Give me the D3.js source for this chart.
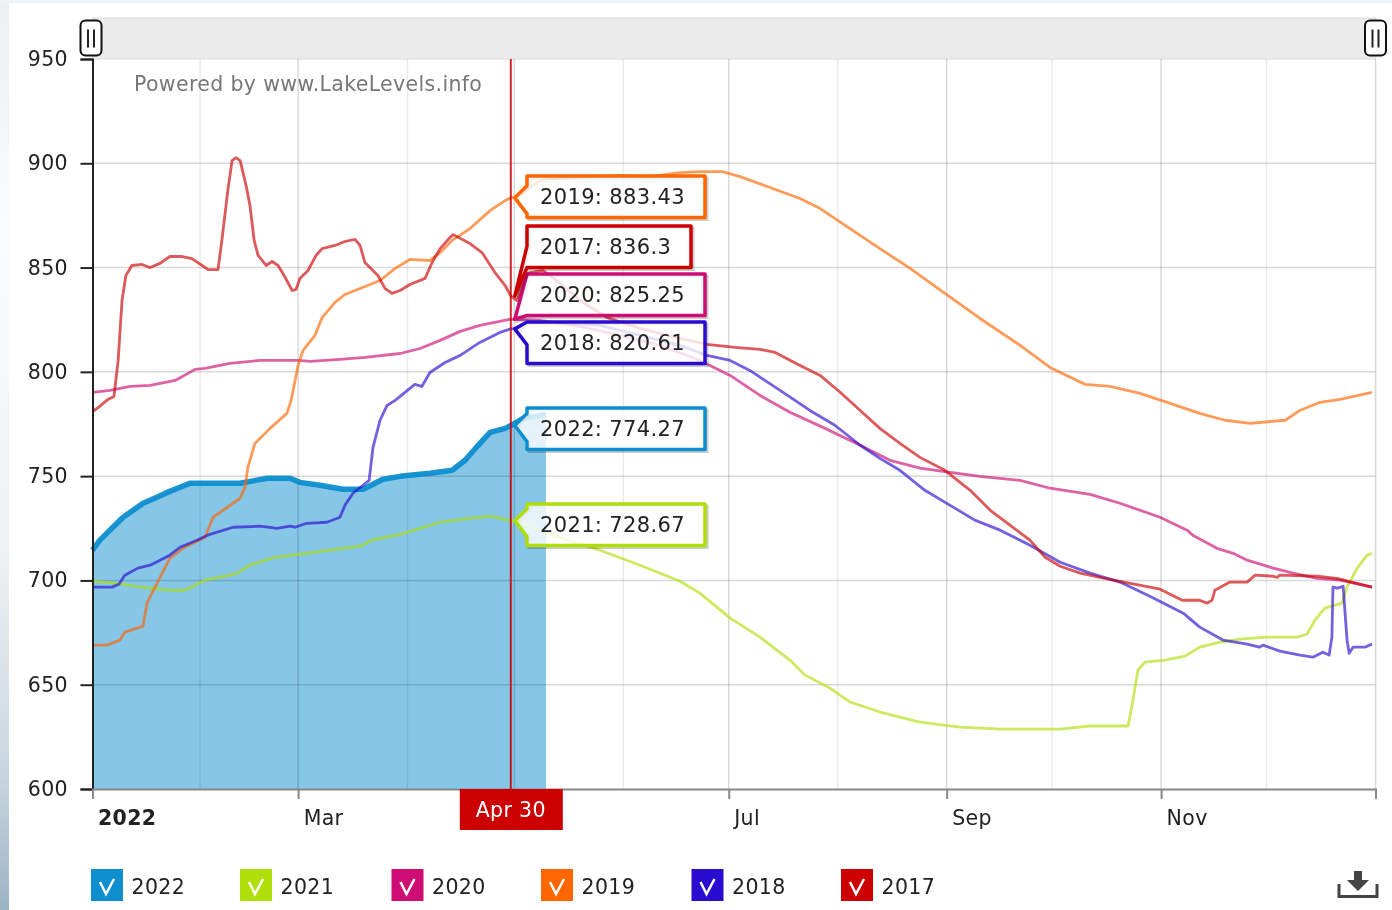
<!DOCTYPE html>
<html>
<head>
<meta charset="utf-8">
<title>Lake levels</title>
<script src="https://cdn.jsdelivr.net/npm/d3@7"></script>
<style>
  html, body { margin: 0; padding: 0; background: #fff; overflow: hidden; }
  svg { filter: blur(0.45px); }
  text { font-family: "DejaVu Sans", Verdana, sans-serif; letter-spacing: 0.35px; }
</style>
</head>
<body>
<svg id="chart" width="1392" height="910"></svg>
<script>
// Each reading is [day of the year, lake level]
const level2022 = [[0,714.5],[2.1,719.3],[5.8,725.5],[8.7,730.3],[14.4,737],[18.3,739.9],[22,742.7],[27.7,746.6],[42,746.6],[49.7,749],[56.2,749],[59,747],[64.7,745.6],[71.3,743.7],[77,743.7],[82.6,748.5],[87.5,749.9],[96,751.4],[102.3,752.8],[106,757.6],[109.7,764.8],[113.1,771],[117.4,772.9],[119,774.27],[122.5,777.7],[129,779.6]];

const level2021 = [[0,699.6],[6.4,698.7],[13.5,696.8],[22,695.3],[26.3,695.3],[32,700.1],[40.5,703],[44.8,707.3],[51.9,711.1],[59,712.6],[67.6,714.5],[76.1,716.4],[79.5,719.3],[87.5,722.1],[98.9,727.9],[107.4,729.8],[113.1,730.8],[119,728.67],[120.8,728.4],[127.3,724.1],[135.9,718.8],[144.4,714.5],[155.8,707.3],[167.1,699.6],[172.8,693.9],[181.4,681.9],[189.9,672.8],[198.4,661.8],[202.7,654.6],[209.8,648.4],[215.5,641.7],[224,636.9],[235.4,632.1],[246.8,629.7],[258.2,628.7],[275.3,628.7],[283.8,630.2],[294.6,630.2],[296,642.6],[297.4,657],[299.4,660.8],[305.1,661.8],[310.8,663.7],[315,668],[320.8,670.4],[326.5,671.9],[334.1,672.8],[342.7,672.8],[345.5,674.2],[347.8,681],[350.6,686.7],[355.5,689.1],[356.9,696.8],[359.8,705.9],[362.6,712.1],[364,713]];

const level2020 = [[0,790.2],[5,791.1],[10.7,793],[16.4,793.5],[23.5,795.9],[29.2,801.2],[32,801.7],[39.1,804.1],[47.7,805.5],[58.5,805.5],[61.9,805],[70.4,806],[77.5,806.9],[87.5,808.8],[93.2,811.2],[98.9,815.1],[104.6,819.4],[110.2,822.3],[119,825.25],[120.8,825.1],[127.3,824.7],[138.7,821.8],[150,817.5],[161.4,812.7],[172.8,805.5],[181.4,798.3],[189.9,788.7],[198.4,780.6],[208.4,772.9],[218.4,764.8],[226.9,757.6],[235.4,753.8],[244,751.8],[252.5,749.9],[263.9,748],[272.4,744.2],[283.8,741.3],[292.3,737],[303.7,730.3],[311.4,724.1],[313,721.7],[319.9,715.4],[324.5,713],[328.5,709.7],[335.9,705.9],[341.5,703.5],[348.4,701],[354.9,700.1],[364,696.8]];

const level2019 = [[0,669],[4.1,669],[7.8,671.4],[9.2,675.2],[14.4,678.1],[15.5,689.1],[19.2,701.5],[22,710.6],[25.7,715.4],[32,720.7],[34.3,730.3],[42,739.4],[43.4,744.7],[44.2,754.2],[46.2,765.7],[50.5,772.9],[55.3,780.1],[56.5,786.3],[58.5,803.1],[59.9,810.3],[63.3,817.5],[65.3,826],[69,833.3],[71.8,837.1],[76.1,840],[81.8,843.8],[86.1,849.6],[90.3,853.9],[96,853.4],[98.9,857.2],[102.3,863],[107.4,868.7],[113.1,877.3],[117.4,882.1],[119,883.43],[120.8,884],[127.3,891.7],[138.7,893.6],[150,894.1],[158.6,893.6],[167.1,895.5],[172.8,896],[179.1,896],[184.2,893.6],[192.7,888.4],[201.3,883.1],[207,878.3],[215.5,868.7],[224,859.1],[232.6,849.6],[242.5,837.6],[252.5,825.6],[263.9,812.7],[272.4,802.1],[282.4,794],[289.5,793],[298,789.7],[306.6,784.9],[315,780.1],[322.2,776.8],[329.3,775.3],[339.3,776.8],[343.5,781.5],[349.2,785.4],[354.9,786.8],[364,790.2]];

const level2018 = [[0,696.8],[5.5,696.8],[7.5,698.2],[9.2,702.5],[12.9,705.9],[16.4,707.3],[22,712.1],[24.9,715.9],[29.7,719.3],[33.4,722.1],[40,725.5],[47.7,726],[52.5,725],[56.2,726],[57.6,725.5],[61,727.4],[66.7,727.9],[70.4,730.3],[71.8,736],[74.1,741.8],[78.7,748],[79.8,763.8],[81.8,776.8],[83.8,783.9],[86.1,786.3],[91.7,794],[93.7,793],[96,799.7],[100.3,804.5],[104.6,807.9],[110.2,814.1],[115.9,818.9],[119,820.61],[120.8,820.8],[123.6,823.7],[133,823.7],[144.4,822.3],[155.8,817.5],[167.1,812.7],[174.8,807.9],[181.4,805.5],[187,800.7],[195.6,791.1],[204.1,781.5],[211.2,774.4],[218.4,764.8],[224,758.5],[229.7,752.8],[236.8,743.2],[244,736],[251,728.9],[258.2,724.1],[266.7,716.9],[275.3,708.7],[283.8,703.5],[292.3,699.2],[300.8,692.4],[310.3,684.3],[315,677.6],[321.6,671.4],[328.5,669.5],[332,668],[333,669],[337.8,666.1],[343.5,664.2],[347.2,663.2],[350,665.6],[351.8,664.2],[352.6,672.8],[352.9,696.8],[354.3,696.3],[355.8,697.2],[356.9,671.4],[357.5,665.1],[358.6,668],[362,668],[364,669.5]];

const level2017 = [[0,781],[2.1,783.5],[4.4,786.8],[6.1,788.2],[7.3,805.5],[8.4,834.2],[9.5,846.2],[11.2,851],[14.1,851.5],[16.4,850],[19.2,852],[22,855.3],[25.5,855.3],[28.3,854.3],[31.2,851],[32.9,849],[35.7,849],[36.8,863],[38.5,887],[39.7,901.3],[40.8,902.7],[42,901.3],[43.7,889.3],[44.8,879.7],[46,863],[47.1,855.8],[49.4,851],[51.1,852.9],[52.8,851],[54.5,846.2],[56.8,839],[57.9,839.5],[59,844.8],[61.3,848.6],[63.6,855.8],[65.3,859.1],[69,860.6],[71.8,862.5],[74.7,863.5],[76.1,860.6],[77.5,852.4],[81.2,846.2],[83.2,840],[85.2,837.6],[87.5,839],[90.3,841.9],[94.6,844.8],[96.6,852.4],[98.9,859.1],[101.7,864.4],[102.6,865.8],[107.4,861.5],[110.8,857.2],[114.5,847.6],[117.4,841.4],[119,836.3],[120.8,834.2],[122.2,841.4],[124.5,847.6],[128.2,848.6],[133,842.4],[138.7,834.2],[146.4,826],[155.8,820.8],[167.1,816],[174.8,813.2],[182.8,811.7],[189.9,810.8],[194.2,809.3],[201.3,803.1],[207,798.3],[212.7,790.2],[218.4,781.5],[224,772.9],[229.7,765.7],[235.4,759],[242.5,752.8],[249.7,743.2],[255.4,733.6],[261,726.5],[266.7,719.3],[271,711.1],[275.3,706.8],[281,703.5],[286.6,701.5],[292.3,699.6],[300.8,696.8],[303.7,695.8],[310,690.5],[315,690.5],[317,689.1],[318.5,690.5],[319.3,695.3],[323.6,699.2],[328.5,699.2],[330.7,702.5],[335.9,702],[337,701.5],[337.8,702.5],[348.4,702],[354,701],[364,696.8]];

const years = ['2022', '2021', '2020', '2019', '2018', '2017'];
const levels = [level2022, level2021, level2020, level2019, level2018, level2017];
const colors = ['#0d8ecf', '#b0de09', '#cd0d74', '#ff6600', '#2a0cd0', '#cc0000'];

// Values at the cursor date, as printed in the balloons
const cursorDay = 119;
const cursorLabel = 'Apr 30';
const cursorValues = ['774.27', '728.67', '825.25', '883.43', '820.61', '836.3'];

const yTicks = [600, 650, 700, 750, 800, 850, 900, 950];
// the month lines sit a little early at the start of the picture
const majorDays = [0, 58.5, 120, 181, 243, 304, 365];
const minorDays = [30.6, 89.6, 151, 212, 273, 334];
const tickLabels = [[0, '2022'], [58.5, 'Mar'], [181, 'Jul'], [243, 'Sep'], [304, 'Nov']];

const svg = d3.select('#chart');
const plotLeft = 92.5, plotRight = 1375.5, plotTop = 59, plotBottom = 789;

function dayDate(d) {
  return new Date(Date.UTC(2022, 0, 1) + d * 864e5);
}

const x = d3.scaleUtc().domain([dayDate(0), dayDate(365)]).range([plotLeft, plotRight]);
const y = d3.scaleLinear().domain([600, 950]).range([plotBottom, plotTop]);

// window frame behind the chart
const defs = svg.append('defs');
const edge = defs.append('linearGradient').attr('id', 'edge').attr('x2', 0).attr('y2', 1);
[[0, '#e9f0f4'], [0.07, '#eef3f6'], [0.25, '#fbfcfd'], [0.6, '#eef2f5'], [0.85, '#c9d6df'], [1, '#9cb4c5']].forEach(s => {
  edge.append('stop').attr('offset', s[0]).attr('stop-color', s[1]);
});
svg.append('rect').attr('width', 9).attr('height', 910).attr('fill', 'url(#edge)');
svg.append('rect').attr('width', 1392).attr('height', 3).attr('fill', '#eef3f6');

// scrollbar
svg.append('rect').attr('x', plotLeft).attr('y', 18).attr('width', plotRight - plotLeft).attr('height', 41)
  .attr('fill', '#ebebeb').attr('stroke', '#dcdcdc').attr('stroke-width', 1);

// filled area of the current year goes under the grid
const area = d3.area().x(d => x(dayDate(d[0]))).y0(plotBottom).y1(d => y(d[1]));
svg.append('path').attr('d', area(level2022)).attr('fill', colors[0]).attr('fill-opacity', 0.5);

// grid
const grid = svg.append('g').attr('fill', 'none').attr('stroke', '#000');
yTicks.slice(1, -1).forEach(v => {
  grid.append('line').attr('x1', plotLeft).attr('x2', plotRight).attr('y1', y(v)).attr('y2', y(v))
    .attr('stroke-opacity', 0.15).attr('stroke-width', 1.5);
});
majorDays.slice(1).forEach(d => {
  grid.append('line').attr('x1', x(dayDate(d))).attr('x2', x(dayDate(d))).attr('y1', plotTop).attr('y2', plotBottom)
    .attr('stroke-opacity', 0.15).attr('stroke-width', 1.5);
});
minorDays.forEach(d => {
  grid.append('line').attr('x1', x(dayDate(d))).attr('x2', x(dayDate(d))).attr('y1', plotTop).attr('y2', plotBottom)
    .attr('stroke-opacity', 0.08).attr('stroke-width', 1.5);
});

// lines
const line = d3.line().x(d => x(dayDate(d[0]))).y(d => y(d[1]));
levels.forEach((series, i) => {
  svg.append('path').attr('d', line(series)).attr('fill', 'none')
    .attr('stroke', colors[i])
    .attr('stroke-width', i == 0 ? 5.5 : 2.8)
    .attr('stroke-opacity', i == 0 ? 0.95 : 0.65)
    .attr('stroke-linejoin', 'round');
});

// axes
const yAxis = d3.axisLeft(y).tickValues(yTicks).tickSize(12).tickPadding(12);
const yG = svg.append('g').attr('transform', `translate(${plotLeft},0)`).call(yAxis);
yG.select('.domain').attr('stroke', '#222').attr('stroke-width', 2);
yG.selectAll('.tick line').attr('stroke', '#222').attr('stroke-width', 2);
yG.selectAll('text').attr('font-size', 20.5).attr('fill', '#222').attr('font-family', '"DejaVu Sans"').attr('dx', -0.5);

const xAxis = d3.axisBottom(x).tickValues(majorDays.map(dayDate)).tickSize(10).tickFormat('');
const xG = svg.append('g').attr('transform', `translate(0,${plotBottom})`).call(xAxis);
xG.select('.domain').attr('stroke', '#888').attr('stroke-width', 2);
xG.selectAll('.tick line').attr('stroke', '#888').attr('stroke-width', 2);
tickLabels.forEach(t => {
  svg.append('text').attr('x', x(dayDate(t[0])) + 5.5).attr('y', 825)
    .attr('font-size', 20.5).attr('fill', '#222')
    .attr('font-weight', t[0] == 0 ? 'bold' : 'normal')
    .text(t[1]);
});

svg.append('text').attr('x', 134).attr('y', 91).attr('font-size', 20.5).attr('fill', '#777')
  .text('Powered by www.LakeLevels.info');

// cursor
const cursorX = x(dayDate(cursorDay));
svg.append('line').attr('x1', cursorX).attr('x2', cursorX).attr('y1', plotTop).attr('y2', plotBottom)
  .attr('stroke', '#cc0000').attr('stroke-width', 2).attr('stroke-opacity', 0.85);
svg.append('rect').attr('x', cursorX - 51).attr('y', plotBottom).attr('width', 103).attr('height', 41).attr('fill', '#cc0000');
svg.append('text').attr('x', cursorX).attr('y', 817).attr('text-anchor', 'middle')
  .attr('font-size', 20.5).attr('fill', '#fff').text(cursorLabel);

// balloons, in the same order as years
const balloonTop = [408, 504, 274, 176, 322, 226];
const balloonWidth = [178, 178, 178, 178, 178, 164];
const balloonHeight = 41.5, balloonLeft = 527;

function balloonPath(i) {
  const top = balloonTop[i], bottom = top + balloonHeight, right = balloonLeft + balloonWidth[i];
  const tipX = cursorX + 4;
  const tipY = y(+cursorValues[i]);
  let baseA, baseB;
  if (tipY > bottom) {
    baseA = Math.max(top, tipY - 50);
    baseB = bottom;
  } else {
    baseA = Math.max(top, tipY - 12);
    baseB = Math.min(bottom, tipY + 16);
  }
  return `M${balloonLeft},${top}H${right}V${bottom}H${balloonLeft}V${baseB}L${tipX},${tipY}L${balloonLeft},${baseA}Z`;
}

years.forEach((yr, i) => {
  const g = svg.append('g');
  g.append('path').attr('d', balloonPath(i)).attr('transform', 'translate(2,2)')
    .attr('fill', 'none').attr('stroke', '#000').attr('stroke-opacity', 0.2).attr('stroke-width', 3);
  g.append('path').attr('d', balloonPath(i)).attr('fill', '#fff').attr('fill-opacity', 0.8)
    .attr('stroke', colors[i]).attr('stroke-width', 3.5).attr('stroke-linejoin', 'round');
  g.append('text').attr('x', 540).attr('y', balloonTop[i] + 28).attr('font-size', 21).attr('fill', '#222')
    .text(`${yr}: ${cursorValues[i]}`);
});

// scrollbar handles
[80.5, 1365].forEach(hx => {
  const h = svg.append('g').attr('transform', `translate(${hx},20.5)`);
  h.append('rect').attr('width', 21).attr('height', 35).attr('rx', 5).attr('fill', '#fff').attr('stroke', '#111').attr('stroke-width', 2);
  h.append('line').attr('x1', 7.5).attr('x2', 7.5).attr('y1', 9).attr('y2', 27).attr('stroke', '#222').attr('stroke-width', 2);
  h.append('line').attr('x1', 13.5).attr('x2', 13.5).attr('y1', 9).attr('y2', 27).attr('stroke', '#222').attr('stroke-width', 2);
});

// legend
const legendX = [91, 240, 391.5, 541, 691.5, 841];
years.forEach((yr, i) => {
  const g = svg.append('g').attr('transform', `translate(${legendX[i]},869)`);
  g.append('rect').attr('width', 32).attr('height', 32).attr('fill', colors[i]);
  g.append('path').attr('d', 'M9,13L15,25L23,10').attr('fill', 'none').attr('stroke', '#fff').attr('stroke-width', 2.5);
  g.append('text').attr('x', 40.5).attr('y', 25).attr('font-size', 20.5).attr('fill', '#222').text(yr);
});

// download icon
const icon = svg.append('g').attr('fill', '#444').attr('stroke', '#444');
icon.append('path').attr('d', 'M1339,884V896.5H1377V884').attr('fill', 'none').attr('stroke-width', 3);
icon.append('path').attr('d', 'M1354,871H1362V880H1369L1358,891L1347,880H1354Z').attr('stroke', 'none');
</script>
</body>
</html>
